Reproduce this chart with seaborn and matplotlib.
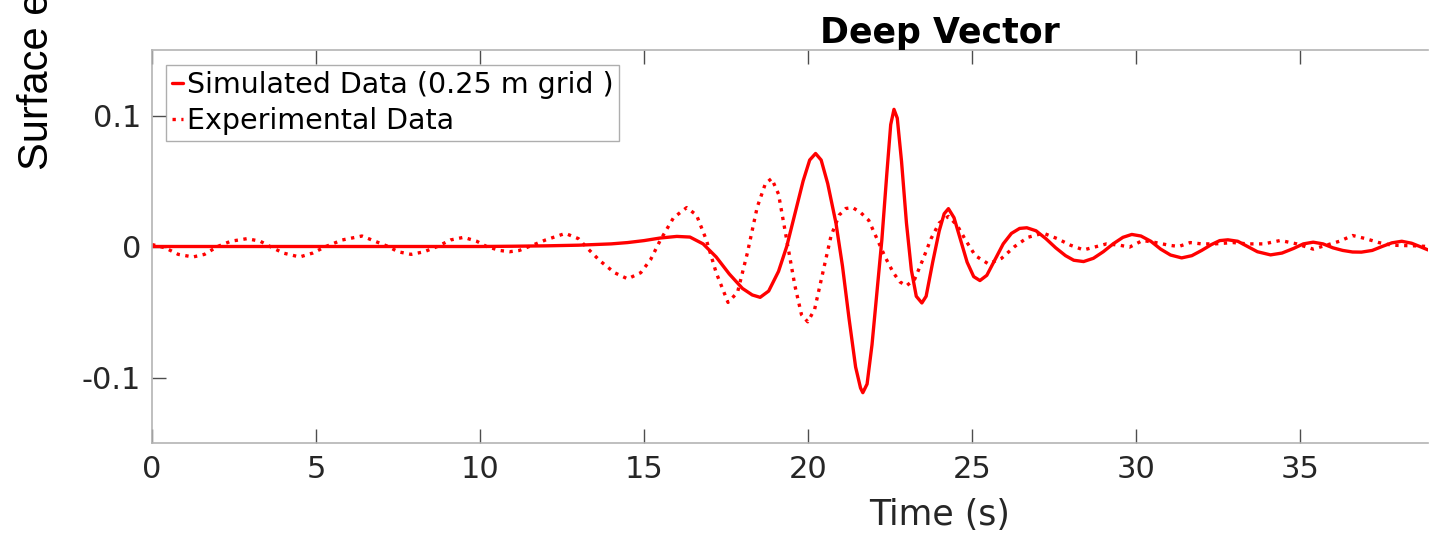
import matplotlib
matplotlib.use("Agg")
import matplotlib.pyplot as plt
import seaborn as sns
import pandas as pd

# ---- data ----
t_sim = [0, 2, 4, 6, 8, 10, 11, 12, 13, 14, 14.5, 15, 15.5, 16.0, 16.4, 16.8, 17.2, 17.6,
         18.0, 18.3, 18.54, 18.8, 19.1, 19.35, 19.6, 19.85, 20.05, 20.23, 20.4, 20.6, 20.85,
         21.05, 21.25, 21.45, 21.6, 21.67, 21.8, 21.95, 22.1, 22.25, 22.4, 22.52, 22.62, 22.72,
         22.85, 23.0, 23.15, 23.3, 23.47, 23.6, 23.8, 24.0, 24.15, 24.28, 24.45, 24.65, 24.85,
         25.05, 25.24, 25.45, 25.7, 25.95, 26.2, 26.45, 26.67, 26.95, 27.25, 27.55, 27.85, 28.1,
         28.4, 28.7, 29.0, 29.3, 29.6, 29.87, 30.15, 30.45, 30.75, 31.05, 31.39, 31.7, 32.0,
         32.3, 32.55, 32.8, 33.1, 33.4, 33.7, 34.1, 34.45, 34.8, 35.1, 35.4, 35.7, 36.0, 36.3,
         36.6, 36.87, 37.2, 37.5, 37.8, 38.1, 38.4, 38.65, 38.9]
v_sim = [0, 0, 0, 0, 0, 0, 0.0002, 0.0005, 0.001, 0.002, 0.003, 0.0045, 0.0065, 0.0077, 0.0072,
         0.002, -0.008, -0.021, -0.032, -0.037, -0.0388, -0.034, -0.019, 0.0, 0.025, 0.050,
         0.066, 0.071, 0.066, 0.048, 0.018, -0.015, -0.055, -0.092, -0.108, -0.1116, -0.105,
         -0.075, -0.035, 0.005, 0.055, 0.093, 0.1047, 0.098, 0.065, 0.018, -0.018, -0.038,
         -0.0431, -0.038, -0.012, 0.012, 0.025, 0.0289, 0.022, 0.005, -0.012, -0.023, -0.026,
         -0.022, -0.010, 0.002, 0.010, 0.0138, 0.0143, 0.012, 0.006, -0.001, -0.007, -0.0105,
         -0.0115, -0.009, -0.004, 0.002, 0.007, 0.0092, 0.008, 0.004, -0.002, -0.0065, -0.0087,
         -0.007, -0.003, 0.0015, 0.0045, 0.0051, 0.004, 0.0, -0.004, -0.0064, -0.005, -0.0015,
         0.002, 0.0033, 0.002, -0.001, -0.003, -0.0042, -0.0043, -0.003, 0.0, 0.0028, 0.004,
         0.0025, 0.0, -0.0026]

t_exp = [0, 0.4, 0.8, 1.25, 1.6, 2.0, 2.4, 2.9, 3.3, 3.6, 4.0, 4.5, 4.9, 5.3, 5.8, 6.4, 6.8,
         7.2, 7.5, 7.9, 8.3, 8.7, 9.1, 9.5, 9.9, 10.2, 10.6, 10.9, 11.2, 11.5, 12.0, 12.6, 13.0,
         13.3, 13.66, 14.1, 14.5, 14.9, 15.2, 15.5, 15.9, 16.3, 16.6, 16.9, 17.2, 17.56, 17.85,
         18.15, 18.45, 18.7, 18.89, 19.1, 19.35, 19.6, 19.8, 19.99, 20.2, 20.45, 20.7, 20.95,
         21.15, 21.36, 21.6, 21.85, 22.1, 22.35, 22.6, 22.8, 23.0, 23.25, 23.5, 23.75, 24.0,
         24.28, 24.55, 24.8, 25.1, 25.5, 25.9, 26.3, 26.7, 27.17, 27.6, 28.0, 28.4, 28.8, 29.1,
         29.5, 29.8, 30.2, 30.6, 31.0, 31.3, 31.65, 32.0, 32.4, 32.96, 33.4, 33.9, 34.4, 34.9,
         35.4, 35.8, 36.2, 36.6, 37.0, 37.4, 37.8, 38.05, 38.5, 38.9]
v_exp = [0.0015, -0.001, -0.006, -0.008, -0.006, 0.0, 0.004, 0.006, 0.004, 0.0, -0.005, -0.008,
         -0.005, 0.0, 0.005, 0.008, 0.004, 0.0, -0.004, -0.006, -0.004, 0.0, 0.005, 0.007, 0.004,
         0.0, -0.003, -0.004, -0.003, 0.0, 0.005, 0.010, 0.006, -0.002, -0.011, -0.020, -0.0247,
         -0.020, -0.010, 0.005, 0.022, 0.0297, 0.024, 0.005, -0.020, -0.0427, -0.035, -0.005,
         0.030, 0.048, 0.0519, 0.040, 0.005, -0.030, -0.052, -0.0575, -0.048, -0.020, 0.008,
         0.024, 0.029, 0.0297, 0.026, 0.020, 0.006, -0.008, -0.020, -0.027, -0.030, -0.025,
         -0.010, 0.006, 0.018, 0.023, 0.016, 0.005, -0.007, -0.0133, -0.009, 0.0, 0.007, 0.0102,
         0.006, 0.001, -0.0026, 0.0, 0.002, 0.001, -0.0005, 0.0046, 0.003, 0.001, 0.0, 0.003,
         0.002, 0.002, 0.003, 0.002, 0.002, 0.0046, 0.002, -0.002, 0.001, 0.004, 0.0084, 0.006,
         0.003, 0.001, 0.0008, 0.0005, 0.0]

series_labels = ["Simulated Data (0.25 m grid )", "Experimental Data"]
x_ticks = [0, 5, 10, 15, 20, 25, 30, 35]
y_ticks = [-0.1, 0, 0.1]
y_tick_labels = ["-0.1", "0", "0.1"]
title_text = "Deep Vector"
x_label = "Time (s)"
y_label = "Surface elevation (m)"

# ---- styling ----
sns.set_theme(style="white")
plt.rcParams["font.family"] = ["DejaVu Sans"]

W, H = 1435, 535
fig = plt.figure(figsize=(W / 100, H / 100), dpi=100)
left, right, top, bottom = 152, 1428, 50, 443
ax = fig.add_axes([left / W, 1 - bottom / H, (right - left) / W, (bottom - top) / H])

df_sim = pd.DataFrame({"t": t_sim, "v": v_sim})
df_exp = pd.DataFrame({"t": t_exp, "v": v_exp})

sns.lineplot(data=df_sim, x="t", y="v", ax=ax, color="#ff0000", linewidth=2.4,
             label=series_labels[0], sort=False)
sns.lineplot(data=df_exp, x="t", y="v", ax=ax, color="#ff0000", linewidth=2.4,
             linestyle=":", label=series_labels[1], sort=False)

ax.set_xlim(0, 38.9)
ax.set_ylim(-0.15, 0.15)
ax.set_xticks(x_ticks)
ax.set_xticklabels([str(v) for v in x_ticks])
ax.set_yticks(y_ticks)
ax.set_yticklabels(y_tick_labels)

spine_col = "#b4b4b4"
for s in ["left", "top", "bottom"]:
    ax.spines[s].set_visible(True)
    ax.spines[s].set_color(spine_col)
    ax.spines[s].set_linewidth(1.2)
ax.spines["right"].set_visible(False)

ax.tick_params(axis="x", which="both", direction="in", length=10, width=1, color="#4d4d4d",
               top=True, bottom=True, labelsize=22, labelcolor="#262626", pad=9)
ax.tick_params(axis="y", which="both", direction="in", length=10, width=1, color="#4d4d4d",
               left=True, right=False, labelsize=22, labelcolor="#262626", pad=8)

ax.set_xlabel(x_label, fontsize=25, color="#262626")
ax.xaxis.set_label_coords((940 - left) / (right - left), -0.14)
ax.set_ylabel("")
ax.set_title(title_text, fontsize=25, fontweight="bold", color="black",
             x=(940 - left) / (right - left), pad=5)

fig.text(48 / W, 1 - 170 / H, y_label, rotation=90, rotation_mode="anchor",
         ha="left", va="baseline", fontsize=30, family=["Liberation Sans", "DejaVu Sans"],
         color="black")

leg = ax.legend(loc="upper left", bbox_to_anchor=(0.011, 0.962), fontsize=20.5,
                handlelength=0.4, handletextpad=0.12, labelspacing=0.3,
                borderpad=0.2, borderaxespad=0, frameon=True, fancybox=False)
leg.get_frame().set_edgecolor("#9a9a9a")
leg.get_frame().set_linewidth(1.0)
for txt in leg.get_texts():
    txt.set_color("black")

fig.savefig("out.png", dpi=100)
